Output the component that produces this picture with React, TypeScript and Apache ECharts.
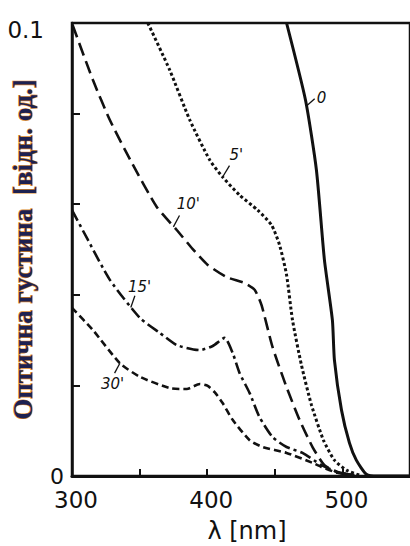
import React, { useEffect, useRef } from "react";
import * as echarts from "echarts";

// Exposure times (curve names) and spectra: wavelength [nm] vs optical density
const curveNames = ["0", "5'", "10'", "15'", "30'"];

const wl0 = [458.7, 472.7, 480.8, 486.7, 492.6, 494.1, 499.3, 505.2, 510.3, 517.7, 526, 550];
const od0 = [0.1, 0.083, 0.0675, 0.0477, 0.0344, 0.0256, 0.0146, 0.0073, 0.0035, 0.0004, 0, 0];

const wl5 = [356.1, 372.3, 387.1, 401.8, 411.4, 424.0, 437.3, 447.6, 453.5, 458.7, 463.1, 469.7, 477.1, 486.0, 494.1, 503.0, 512.5];
const od5 = [0.1, 0.0896, 0.0786, 0.0698, 0.066, 0.062, 0.0587, 0.0554, 0.051, 0.0444, 0.0344, 0.0245, 0.0157, 0.0079, 0.0035, 0.0013, 0.0002];

const wl10 = [300.5, 315.5, 328.0, 344.3, 362.7, 377.5, 389.3, 400.4, 414.4, 427.7, 435.1, 440.2, 448.3, 458.7, 468.3, 477.9, 486.7, 496.3, 508.9];
const od10 = [0.0995, 0.0874, 0.0786, 0.0691, 0.0594, 0.0543, 0.0501, 0.0466, 0.0439, 0.0426, 0.0411, 0.0377, 0.0285, 0.0196, 0.0124, 0.0064, 0.0024, 0.0009, 0.0002];

const wl15 = [300, 311.8, 328.0, 350.2, 364.9, 377.5, 394.5, 404.1, 412.9, 418.8, 424.0, 431.4, 438.7, 448.3, 458.7, 470.5, 484.5, 497.8, 508.9];
const od15 = [0.0587, 0.0521, 0.0433, 0.0349, 0.0316, 0.0289, 0.0278, 0.0287, 0.0305, 0.0272, 0.0227, 0.0183, 0.013, 0.0086, 0.0064, 0.0051, 0.0024, 0.0007, 0.0002];

const wl30 = [300, 315.5, 335.4, 350.2, 372.3, 384.9, 394.5, 400.4, 405.5, 411.4, 418.8, 431.4, 441.0, 458.7, 477.9, 484.5, 496.3, 508.9];
const od30 = [0.0371, 0.0322, 0.0249, 0.0219, 0.0194, 0.0192, 0.0203, 0.0199, 0.0185, 0.0161, 0.0124, 0.0079, 0.0064, 0.0051, 0.0029, 0.002, 0.0007, 0.0002];

// Axis ticks that carry a label
const xTickLabels = ["300", "400", "500"];
const yTickLabels = ["0", "0.1"];

// Curve tags: leader start (on the curve), leader end, tag centre — in data units
const tagFrom: number[][] = [[473.4, 0.0817], [411.4, 0.066], [375.0, 0.055], [343.5, 0.0372], [335.4, 0.0249]];
const tagTo: number[][] = [[479.5, 0.0833], [416.5, 0.0685], [379.5, 0.0575], [346.5, 0.0398], [331.5, 0.0227]];
const tagAt: number[][] = [[484.5, 0.0835], [421.5, 0.0708], [386.0, 0.06], [350.0, 0.0418], [330.0, 0.0203]];

const curves = [
  { wl: wl0, od: od0, dash: "solid" as any, width: 3 },
  { wl: wl5, od: od5, dash: [3, 2.5], width: 3 },
  { wl: wl10, od: od10, dash: [13, 6], width: 2.6 },
  { wl: wl15, od: od15, dash: [12, 4, 3, 4], width: 2.6 },
  { wl: wl30, od: od30, dash: [7, 4], width: 2.6 },
];

const INK = "#111";
const tickFont = "'DejaVu Sans', sans-serif";

function buildOption(): any {
  const series: any[] = curves.map((c, i) => ({
    name: curveNames[i],
    type: "line",
    data: c.wl.map((w, k) => [w, c.od[k]]),
    showSymbol: false,
    smooth: 0.2,
    clip: true,
    lineStyle: { color: INK, width: c.width, type: c.dash, cap: "butt" },
    emphasis: { disabled: true },
    markLine: {
      silent: true,
      symbol: ["none", "none"],
      label: { show: false },
      lineStyle: { type: "solid", color: INK, width: 1.3 },
      emphasis: { disabled: true },
      data: [[{ coord: tagFrom[i] }, { coord: tagTo[i] }]],
    },
    markPoint: {
      silent: true,
      symbol: "circle",
      symbolSize: 0,
      data: [
        {
          coord: tagAt[i],
          label: {
            show: true,
            position: "inside",
            formatter: curveNames[i],
            color: INK,
            fontFamily: tickFont,
            fontStyle: "italic",
            fontSize: 15,
          },
        },
      ],
    },
  }));

  return {
    animation: false,
    backgroundColor: "#ffffff",
    grid: {
      left: 72,
      top: 23,
      right: 0,
      bottom: 70,
      outerBoundsMode: "none",
      containLabel: false,
      show: true,
      borderColor: INK,
      borderWidth: 2.5,
      backgroundColor: "transparent",
    },
    xAxis: {
      type: "value",
      min: 300,
      max: 550,
      interval: 50,
      name: "λ [nm]",
      nameLocation: "middle",
      nameGap: 43,
      nameMoveOverlap: false,
      nameTextStyle: {
        color: INK,
        fontFamily: tickFont,
        fontSize: 24,
        padding: [0, 0, 0, 12],
      },
      axisLine: { show: true, lineStyle: { color: INK, width: 3 } },
      axisTick: { show: true, inside: true, length: 7, lineStyle: { color: INK, width: 2 } },
      axisLabel: {
        color: INK,
        fontFamily: tickFont,
        fontSize: 23,
        margin: 12,
        padding: [0, 0, 0, 8],
        showMaxLabel: false,
        formatter: (v: number) => (xTickLabels.includes(String(Math.round(v))) ? String(Math.round(v)) : ""),
      },
      splitLine: { show: false },
    },
    yAxis: {
      type: "value",
      min: 0,
      max: 0.1,
      interval: 0.02,
      name: "Оптична густина  [відн. од.]",
      nameLocation: "middle",
      nameRotate: 90,
      nameGap: 36,
      nameMoveOverlap: false,
      nameTextStyle: {
        color: "#1d2150",
        fontFamily: "'Liberation Serif', serif",
        fontWeight: "bold",
        fontSize: 27,
        textBorderColor: "#dc8a2c",
        textBorderWidth: 1.2,
      },
      axisLine: { show: true, lineStyle: { color: INK, width: 2.5 } },
      axisTick: { show: true, inside: true, length: 8, lineStyle: { color: INK, width: 2 } },
      axisLabel: {
        color: INK,
        fontFamily: tickFont,
        fontSize: 23,
        margin: 6,
        formatter: (v: number) => {
          const s = String(Math.round(v * 100) / 100);
          if (!yTickLabels.includes(s)) return "";
          return s === "0" ? `{low|${s}}` : `{top|${s}}`;
        },
        rich: {
          low: { fontFamily: tickFont, fontSize: 22, color: INK, padding: [0, 2, 0, 0] },
          top: { fontFamily: tickFont, fontSize: 23, color: INK, padding: [14, 22, 0, 0] },
        },
      },
      splitLine: { show: false },
    },
    series,
  };
}

export default function App() {
  const ref = useRef<HTMLDivElement>(null);
  useEffect(() => {
    if (!ref.current) return;
    const chart = echarts.init(ref.current, undefined, { renderer: "svg" });
    chart.setOption(buildOption());
    return () => chart.dispose();
  }, []);
  return (
    <div
      ref={ref}
      style={{ position: "fixed", left: 0, top: 0, width: 410, height: 546, background: "#fff" }}
    />
  );
}
